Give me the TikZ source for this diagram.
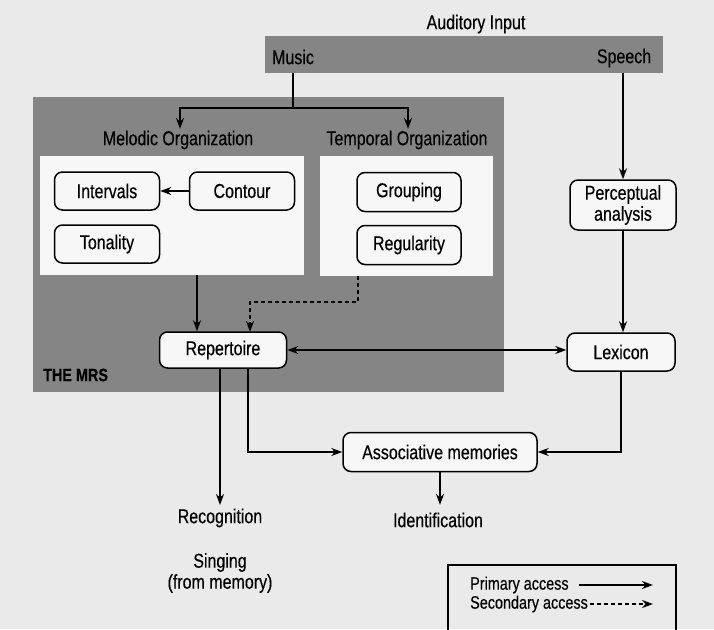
\documentclass[tikz,border=0pt]{standalone}
\usepackage{fontspec}
\setmainfont{Liberation Sans}[FakeStretch=0.8,FakeBold=0.4]
\usetikzlibrary{arrows.meta}
\definecolor{pagebg}{HTML}{EAEAEA}
\definecolor{darkband}{HTML}{858585}
\definecolor{boxwhite}{HTML}{F7F7F7}
\tikzset{
  lbl/.style={inner sep=0pt, font=\fontsize{20}{21}\selectfont, align=center},
  modbox/.style={draw=black, line width=1.5pt, rounded corners=8pt, fill=boxwhite,
    font=\fontsize{20}{21}\selectfont, align=center, inner sep=0pt},
  prim/.style={line width=1.5pt, -{Stealth[length=11pt,width=8pt]}},
  prim2/.style={line width=1.5pt, {Stealth[length=11pt,width=8pt]}-{Stealth[length=11pt,width=8pt]}},
  seco/.style={line width=1.5pt, dash pattern=on 4pt off 3pt, -{Stealth[length=11pt,width=8pt]}},
  plain/.style={line width=1.5pt},
  legtxt/.style={inner sep=0pt, anchor=west, font=\fontsize{18}{19}\selectfont}
}
\begin{document}
\begin{tikzpicture}[x=1pt,y=-1pt]
\useasboundingbox (0,0) rectangle (714,629);
\fill[pagebg] (0,0) rectangle (714,629);
% dark regions
\fill[darkband] (265,36) rectangle (663,73);
\fill[darkband] (33,97) rectangle (504,392);
\fill[boxwhite] (40,156) rectangle (304,275);
\fill[boxwhite] (320,156) rectangle (493,276);

% text labels
\node[lbl] (audin) at (476,24) {Auditory Input};
\node[lbl] (music) at (293,57) {Music};
\node[lbl] (speech) at (624,58) {Speech};
\node[lbl] (melo) at (178,140) {Melodic Organization};
\node[lbl] (temp) at (407,140) {Temporal Organization};
\node[inner sep=0pt, anchor=west, font=\fontsize{18}{19}\bfseries\selectfont] (mrs) at (43,375) {THE MRS};
\node[lbl] (recog) at (220,518) {Recognition};
\node[lbl] (ident) at (438,520) {Identification};
\node[lbl] (sing) at (220,573) {Singing\\(from memory)};

% module boxes
\node[modbox, minimum width=105pt, minimum height=38pt] (intervals) at (107,191) {Intervals};
\node[modbox, minimum width=105pt, minimum height=38pt] (contour) at (242,191) {Contour};
\node[modbox, minimum width=105pt, minimum height=38pt] (tonality) at (107,244) {Tonality};
\node[modbox, minimum width=104pt, minimum height=39pt] (grouping) at (409,192) {Grouping};
\node[modbox, minimum width=104pt, minimum height=39pt] (regularity) at (409,245) {Regularity};
\node[modbox, minimum width=106pt, minimum height=50pt] (percep) at (623,205) {Perceptual\\analysis};
\node[modbox, minimum width=108pt, minimum height=38pt] (lexicon) at (621,352) {Lexicon};
\node[modbox, minimum width=127pt, minimum height=36pt] (reper) at (223,350) {Repertoire};
\node[modbox, minimum width=194pt, minimum height=39pt] (assoc) at (440,452) {Associative memories};

% coordinates
\coordinate (mbandbot) at (293,73);
\coordinate (split) at (293,108);
\coordinate (melotop) at (180,129);
\coordinate (temptop) at (408,129);
\coordinate (melobot) at (197,275);
\coordinate (tempbot) at (358,276);
\coordinate (sbandbot) at (623,73);
\coordinate (recogtop) at (220,505);
\coordinate (identtop) at (440,505);

% connectors
\draw[plain] (mbandbot) -- (split);
\draw[prim] (split) -| (melotop);
\draw[prim] (split) -| (temptop);
\draw[prim] (contour.west) -- (intervals.east);
\draw[prim] (sbandbot) -- (percep.north);
\draw[prim] (percep.south) -- (lexicon.north -| percep.south);
\draw[prim] (melobot) -- (melobot |- reper.north);
\draw[seco] (tempbot) -- (358,302) -- (250,302) -- (250,332);
\draw[prim2] (reper.east) -- (lexicon.west |- reper.east);
\draw[prim] (recogtop |- reper.south) -- (recogtop);
\draw[prim] ([xshift=25pt]reper.south) |- (assoc.west);
\draw[prim] (lexicon.south) |- (assoc.east);
\draw[prim] (assoc.south) -- (identtop);

% legend
\draw[line width=1.3pt] (448,640) -- (448,565) -- (676,565) -- (676,640);
\node[legtxt] (prlbl) at (470,585) {Primary access};
\node[legtxt] (selbl) at (470,604) {Secondary access};
\coordinate (prend) at (653,585);
\coordinate (seend) at (653,604);
\draw[prim] ([xshift=10pt]prlbl.east) -- (prend);
\draw[seco] ([xshift=2pt]selbl.east) -- (seend);
\end{tikzpicture}
\end{document}
